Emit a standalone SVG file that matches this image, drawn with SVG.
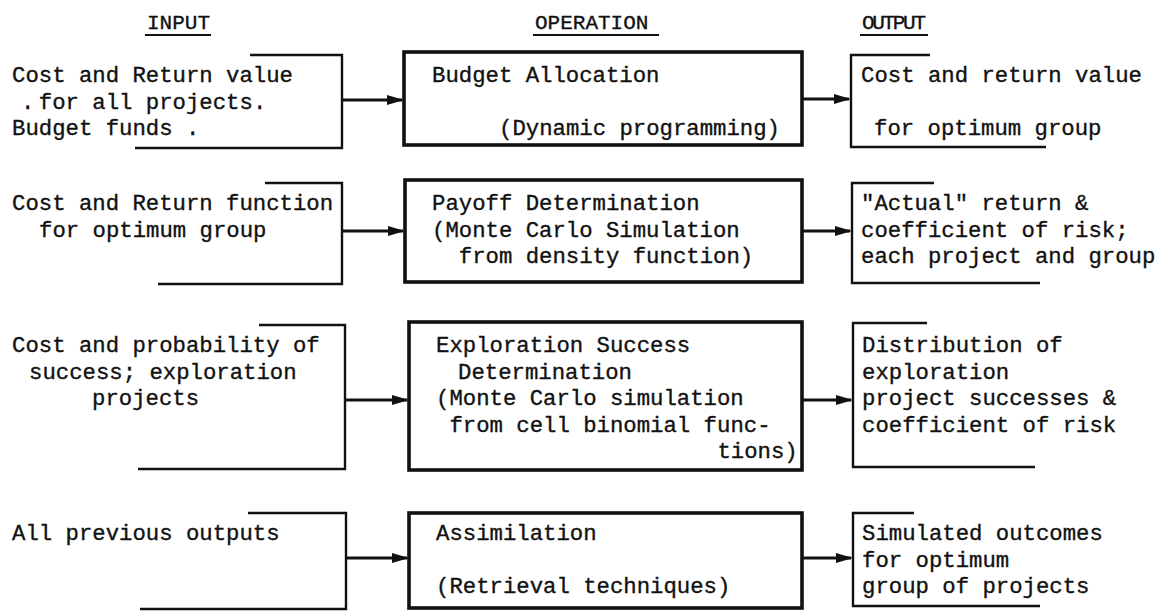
<svg xmlns="http://www.w3.org/2000/svg" width="1168" height="613" viewBox="0 0 1168 613">
  <style>
    text { font-family: "Liberation Mono", "DejaVu Sans Mono", monospace; font-size: 22.3px; fill: #111; stroke: #111; stroke-width: 0.35px; }
    .hdr { font-size: 21px; }
    .uline { stroke: #111; stroke-width: 2; }
    .side { fill: none; stroke: #111; stroke-width: 2.4; }
    .op { fill: none; stroke: #111; stroke-width: 3.6; }
    .conn { fill: none; stroke: #111; stroke-width: 3; marker-end: url(#ah); }
  </style>
  <defs>
    <marker id="ah" markerUnits="userSpaceOnUse" markerWidth="18" markerHeight="12" refX="15" refY="6" orient="auto">
      <path d="M0,1 L17,6 L0,11 Z" fill="#111"/>
    </marker>
  </defs>

  <!-- column headings -->
  <g id="headings">
    <text class="hdr" x="147" y="29">INPUT</text>
    <line class="uline" x1="145" y1="35" x2="211" y2="35"/>
    <text class="hdr" x="535" y="29">OPERATION</text>
    <line class="uline" x1="533" y1="35" x2="659" y2="35"/>
    <text class="hdr" x="862" y="29" textLength="64">OUTPUT</text>
    <line class="uline" x1="860" y1="35" x2="928" y2="35"/>
  </g>

  <!-- row 1 -->
  <g id="in1">
    <path class="side" d="M250,55 H342 V148 H135"/>
    <text x="12" y="82">Cost and Return value</text>
    <text y="108.6"><tspan x="21">.</tspan><tspan x="38.8">for all projects.</tspan></text>
    <text x="12" y="135.2">Budget funds .</text>
  </g>
  <g id="op1">
    <rect class="op" x="404" y="52" width="398" height="93"/>
    <text x="432" y="82">Budget Allocation</text>
    <text x="499" y="135.2">(Dynamic programming)</text>
  </g>
  <g id="out1">
    <path class="side" d="M930,55 H851 V147 H1046"/>
    <text x="861" y="82">Cost and return value</text>
    <text x="874" y="135.2">for optimum group</text>
  </g>

  <!-- row 2 -->
  <g id="in2">
    <path class="side" d="M265,183 H342 V284 H158"/>
    <text x="12" y="210">Cost and Return function</text>
    <text x="39" y="236.6">for optimum group</text>
  </g>
  <g id="op2">
    <rect class="op" x="405" y="180" width="397" height="102"/>
    <text x="432" y="210">Payoff Determination</text>
    <text x="432" y="236.6">(Monte Carlo Simulation</text>
    <text x="458.8" y="263.2">from density function)</text>
  </g>
  <g id="out2">
    <path class="side" d="M934,183 H852 V283 H1040"/>
    <text x="861" y="210">"Actual" return &amp;</text>
    <text x="861" y="236.6">coefficient of risk;</text>
    <text x="861" y="263.2">each project and group</text>
  </g>

  <!-- row 3 -->
  <g id="in3">
    <path class="side" d="M259,325 H345 V469 H138"/>
    <text x="12" y="352">Cost and probability of</text>
    <text x="29" y="378.6">success; exploration</text>
    <text x="92" y="405.2">projects</text>
  </g>
  <g id="op3">
    <rect class="op" x="409" y="322" width="393" height="148"/>
    <text x="436" y="352">Exploration Success</text>
    <text x="458" y="378.6">Determination</text>
    <text x="436" y="405.2">(Monte Carlo simulation</text>
    <text x="449.4" y="431.8">from cell binomial func-</text>
    <text x="717.4" y="458.4">tions)</text>
  </g>
  <g id="out3">
    <path class="side" d="M927,323 H853 V467 H1035"/>
    <text x="862" y="352">Distribution of</text>
    <text x="862" y="378.6">exploration</text>
    <text x="862" y="405.2">project successes &amp;</text>
    <text x="862" y="431.8">coefficient of risk</text>
  </g>

  <!-- row 4 -->
  <g id="in4">
    <path class="side" d="M248,513 H346 V609 H140"/>
    <text x="12" y="540">All previous outputs</text>
  </g>
  <g id="op4">
    <rect class="op" x="409" y="513" width="393" height="95"/>
    <text x="436" y="540">Assimilation</text>
    <text x="436" y="593.2">(Retrieval techniques)</text>
  </g>
  <g id="out4">
    <path class="side" d="M914,513 H853 V606 H1040"/>
    <text x="862" y="540">Simulated outcomes</text>
    <text x="862" y="566.6">for optimum</text>
    <text x="862" y="593.2">group of projects</text>
  </g>

  <!-- flow arrows: input -> operation -> output -->
  <g id="connectors">
    <line class="conn" x1="342" y1="100" x2="402" y2="100"/>
    <line class="conn" x1="802" y1="99" x2="849" y2="99"/>
    <line class="conn" x1="342" y1="231" x2="403" y2="231"/>
    <line class="conn" x1="802" y1="231" x2="850" y2="231"/>
    <line class="conn" x1="345" y1="400" x2="407" y2="400"/>
    <line class="conn" x1="802" y1="400" x2="851" y2="400"/>
    <line class="conn" x1="346" y1="558" x2="407" y2="558"/>
    <line class="conn" x1="802" y1="558" x2="851" y2="558"/>
  </g>
</svg>
